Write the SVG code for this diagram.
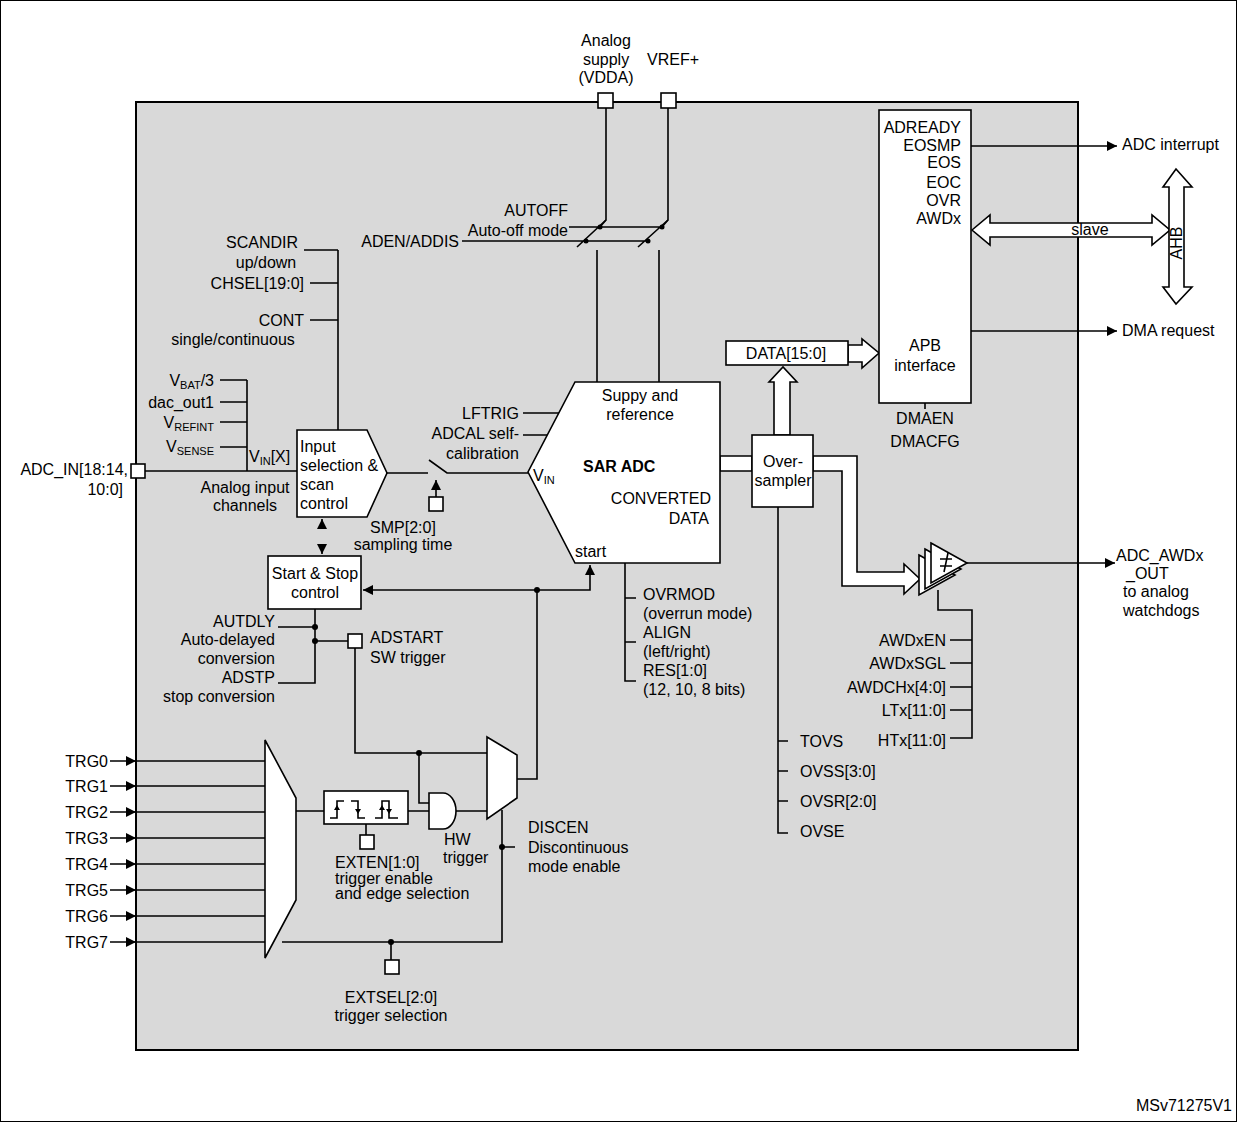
<svg xmlns="http://www.w3.org/2000/svg" width="1237" height="1122" viewBox="0 0 1237 1122">
<defs>
<style>
text{font-family:"Liberation Sans",Arial,sans-serif;font-size:16px;fill:#000}
.e{text-anchor:end}.m{text-anchor:middle}
.s{font-size:11px}
.l{stroke:#000;stroke-width:1.6;fill:none}
.w{fill:#fff;stroke:#000;stroke-width:1.6}
.d{fill:#000}
</style>
<marker id="ar" viewBox="0 0 10 10" refX="10" refY="5" markerWidth="10" markerHeight="10" markerUnits="userSpaceOnUse" orient="auto"><path d="M0,0L10,5L0,10z"/></marker>
</defs>
<rect x="0.5" y="0.5" width="1236" height="1121" fill="#fff" stroke="#000"/>
<rect id="main" x="136" y="102" width="942" height="948" fill="#d9d9d9" stroke="#000" stroke-width="2"/>

<g id="connectors">
<path class="l" d="M606,107V220L600,227M668,107V220L662,227"/>
<path class="l" d="M569,227H662M462,241H648M577,247L606,220M638,247L668,220M597,250V382M659,250V382"/>
<circle class="d" cx="600" cy="227" r="2.5"/><circle class="d" cx="662" cy="227" r="2.5"/>
<circle class="d" cx="586" cy="241" r="2.5"/><circle class="d" cx="648" cy="241" r="2.5"/>
<path class="l" d="M338,430V250M304,250H338M310,283H338M310,320H338"/>
<path class="l" d="M145,471H297M247,380V471M220,380H247M220,402H247M220,422H247M220,447H247"/>
<path class="l" d="M387,473H428M429,460L447,473H528"/>
<path class="l" d="M436,497V480" marker-end="url(#ar)"/>
<path class="l" d="M322,528V519" marker-end="url(#ar)"/><path class="l" d="M322,545V554" marker-end="url(#ar)"/>
<path class="l" d="M537,590H363" marker-end="url(#ar)"/>
<path class="l" d="M537,590H590V565" marker-end="url(#ar)"/>
<circle class="d" cx="537" cy="590" r="3"/>
<path class="l" d="M537,590V779H517"/>
<path class="l" d="M523,413H559M523,435H548"/>
<path class="l" d="M315,609V683H278M278,627H315M315,641H348"/>
<circle class="d" cx="315" cy="627" r="3"/><circle class="d" cx="315" cy="641" r="3"/>
<path class="l" d="M355,648V753H487M419,753V803H429"/>
<circle class="d" cx="419" cy="753" r="3"/>
<path class="l" d="M296,811H324M408,811H429M456,811H487M366,824V835"/>
<path class="l" d="M502,810V942H282M502,847H515M391,942V960"/>
<circle class="d" cx="502" cy="847" r="3"/><circle class="d" cx="391" cy="942" r="3"/>
<path class="l" d="M110,761H265M110,786H265M110,812H265M110,838H265M110,864H265M110,890H265M110,916H265M110,942H265"/>
<path d="M126,756L136,761L126,766zM126,781L136,786L126,791zM126,807L136,812L126,817zM126,833L136,838L126,843zM126,859L136,864L126,869zM126,885L136,890L126,895zM126,911L136,916L126,921zM126,937L136,942L126,947z"/>
<path class="l" d="M625,563V681H636M625,598H636M625,642H636"/>
<path class="l" d="M778,507V833H788M778,741H788M778,771H788M778,801H788"/>
<path class="l" d="M938,590V610H972V738H950M950,640H972M950,663H972M950,687H972M950,710H972"/>
<path class="l" d="M967,563H1115" marker-end="url(#ar)"/>
<path class="l" d="M962,127H971M962,162H971M962,182H971M962,200H971M962,218H971M925,403V409"/>
<path class="l" d="M962,146H1117" marker-end="url(#ar)"/>
<path class="l" d="M971,331H1117" marker-end="url(#ar)"/>
<path class="w" d="M720,456H752V471H720z"/>
<path class="w" d="M774,435V382H769L783,367L797,382H790V435z"/>
<path class="w" d="M848,345H862V339L879,353L862,368V362H848z"/>
<path class="w" d="M813,456H857V572H904V564L920,579L904,594V586H842V471H813z"/>
<path class="w" d="M972,230L990,215V223H1152V215L1170,230L1152,245V237H990V245z"/>
<path class="w" d="M1176,169L1192,187H1184V287H1192L1176,304L1163,287H1169V187H1163z"/>
</g>

<g id="pads">
<rect class="w" x="598" y="93" width="15" height="15"/>
<rect class="w" x="661" y="93" width="15" height="15"/>
<rect class="w" x="131" y="464" width="14" height="14"/>
<rect class="w" x="429" y="497" width="14" height="14"/>
<rect class="w" x="348" y="634" width="14" height="14"/>
<rect class="w" x="360" y="835" width="14" height="14"/>
<rect class="w" x="385" y="960" width="14" height="14"/>
</g>

<g id="input-sel"><polygon class="w" points="297,430 367,430 387,473 367,517 297,517"/>
<text x="300" y="452">Input</text><text x="300" y="471">selection &amp;</text><text x="300" y="490">scan</text><text x="300" y="509">control</text></g>

<g id="sar"><polygon class="w" points="575,382 720,382 720,563 575,563 528,472"/>
<text class="m" x="640" y="401">Suppy and</text><text class="m" x="640" y="420">reference</text>
<text x="583" y="472" font-weight="bold">SAR ADC</text>
<text x="533" y="481">V<tspan class="s" dy="3">IN</tspan></text>
<text class="e" x="711" y="504">CONVERTED</text><text class="e" x="709" y="524">DATA</text>
<text x="575" y="557">start</text></g>

<g id="startstop"><rect class="w" x="268" y="556" width="93" height="53"/>
<text class="m" x="315" y="579">Start &amp; Stop</text><text class="m" x="315" y="598" font-size="14">control</text></g>

<g id="oversampler"><rect class="w" x="752" y="435" width="61" height="72"/>
<text class="m" x="783" y="467">Over-</text><text class="m" x="783" y="486">sampler</text></g>

<g id="data"><rect class="w" x="726" y="341" width="122" height="24"/><text class="m" x="786" y="359">DATA[15:0]</text></g>

<g id="apb"><rect class="w" x="879" y="110" width="92" height="293"/>
<text class="e" x="961" y="133">ADREADY</text><text class="e" x="961" y="151">EOSMP</text><text class="e" x="961" y="168">EOS</text>
<text class="e" x="961" y="188">EOC</text><text class="e" x="961" y="206">OVR</text><text class="e" x="961" y="224">AWDx</text>
<text class="m" x="925" y="351">APB</text><text class="m" x="925" y="371">interface</text></g>

<g id="watchdog">
<polygon class="w" points="919,555 955,575 919,595"/>
<polygon class="w" points="925,549 961,569 925,589"/>
<polygon class="w" points="931,543 967,563 931,583"/>
<path class="l" d="M940,559H952M940,566H952M948,553L944,572"/>
</g>

<g id="muxes">
<polygon class="w" points="265,740 296,798 296,900 265,958"/>
<polygon class="w" points="487,737 517,755 517,798 487,819"/>
<path class="w" d="M429,793H443A13,18 0 0 1 443,829H429z"/>
<rect class="w" x="324" y="791" width="84" height="33"/>
<path class="l" d="M330,818H337V801H344M351,801H358V818H365M375,818H382V801H389V818H398"/>
<path d="M334,810L337,805L340,810zM355,809L358,814L361,809zM379,810L382,805L385,810zM386,809L389,814L392,809z"/>
</g>

<g id="labels">
<text class="m" x="606" y="46">Analog</text><text class="m" x="606" y="65">supply</text><text class="m" x="606" y="83">(VDDA)</text>
<text class="m" x="673" y="65">VREF+</text>
<text class="e" x="568" y="216">AUTOFF</text><text class="e" x="568" y="236">Auto-off mode</text><text class="e" x="459" y="247">ADEN/ADDIS</text>
<text class="m" x="262" y="248">SCANDIR</text><text class="m" x="266" y="268">up/down</text><text class="e" x="304" y="289">CHSEL[19:0]</text>
<text class="e" x="304" y="326">CONT</text><text class="m" x="233" y="345">single/continuous</text>
<text class="e" x="214" y="386">V<tspan class="s" dy="3">BAT</tspan><tspan dy="-3">/3</tspan></text><text class="e" x="214" y="408">dac_out1</text>
<text class="e" x="214" y="428">V<tspan class="s" dy="3">REFINT</tspan></text><text class="e" x="214" y="452">V<tspan class="s" dy="3">SENSE</tspan></text>
<text x="249" y="462">V<tspan class="s" dy="3">IN</tspan><tspan dy="-3">[X]</tspan></text>
<text class="m" x="245" y="493">Analog input</text><text class="m" x="245" y="511">channels</text>
<text class="e" x="128" y="475">ADC_IN[18:14,</text><text class="e" x="123" y="495">10:0]</text>
<text class="m" x="403" y="533">SMP[2:0]</text><text class="m" x="403" y="550">sampling time</text>
<text class="e" x="519" y="419">LFTRIG</text><text class="e" x="519" y="439">ADCAL self-</text><text class="e" x="519" y="459">calibration</text>
<text class="e" x="275" y="627">AUTDLY</text><text class="e" x="275" y="645">Auto-delayed</text><text class="e" x="275" y="664">conversion</text>
<text class="e" x="275" y="683">ADSTP</text><text class="e" x="275" y="702">stop conversion</text>
<text x="370" y="643">ADSTART</text><text x="370" y="663">SW trigger</text>
<text x="444" y="845">HW</text><text x="443" y="863">trigger</text>
<text x="335" y="868" font-size="15">EXTEN[1:0]</text><text x="335" y="884" font-size="15">trigger enable</text><text x="335" y="899" font-size="15">and edge selection</text>
<text x="528" y="833">DISCEN</text><text x="528" y="853">Discontinuous</text><text x="528" y="872">mode enable</text>
<text class="m" x="391" y="1003">EXTSEL[2:0]</text><text class="m" x="391" y="1021">trigger selection</text>
<text class="e" x="108" y="767">TRG0</text><text class="e" x="108" y="792">TRG1</text><text class="e" x="108" y="818">TRG2</text><text class="e" x="108" y="844">TRG3</text>
<text class="e" x="108" y="870">TRG4</text><text class="e" x="108" y="896">TRG5</text><text class="e" x="108" y="922">TRG6</text><text class="e" x="108" y="948">TRG7</text>
<text x="643" y="600">OVRMOD</text><text x="643" y="619">(overrun mode)</text><text x="643" y="638">ALIGN</text>
<text x="643" y="657">(left/right)</text><text x="643" y="676">RES[1:0]</text><text x="643" y="695">(12, 10, 8 bits)</text>
<text x="800" y="747">TOVS</text><text x="800" y="777">OVSS[3:0]</text><text x="800" y="807">OVSR[2:0]</text><text x="800" y="837">OVSE</text>
<text class="e" x="946" y="646">AWDxEN</text><text class="e" x="946" y="669">AWDxSGL</text><text class="e" x="946" y="693">AWDCHx[4:0]</text>
<text class="e" x="946" y="716">LTx[11:0]</text><text class="e" x="946" y="746">HTx[11:0]</text>
<text class="m" x="925" y="424">DMAEN</text><text class="m" x="925" y="447">DMACFG</text>
<text x="1122" y="150">ADC interrupt</text><text x="1122" y="336">DMA request</text>
<text class="m" x="1090" y="235">slave</text>
<text class="m" transform="translate(1182,243) rotate(-90)">AHB</text>
<text x="1116" y="561">ADC_AWDx</text><text x="1126" y="579">_OUT</text><text x="1123" y="597">to analog</text><text x="1123" y="616">watchdogs</text>
<text class="e" x="1232" y="1111" font-size="14">MSv71275V1</text>
</g>
</svg>
